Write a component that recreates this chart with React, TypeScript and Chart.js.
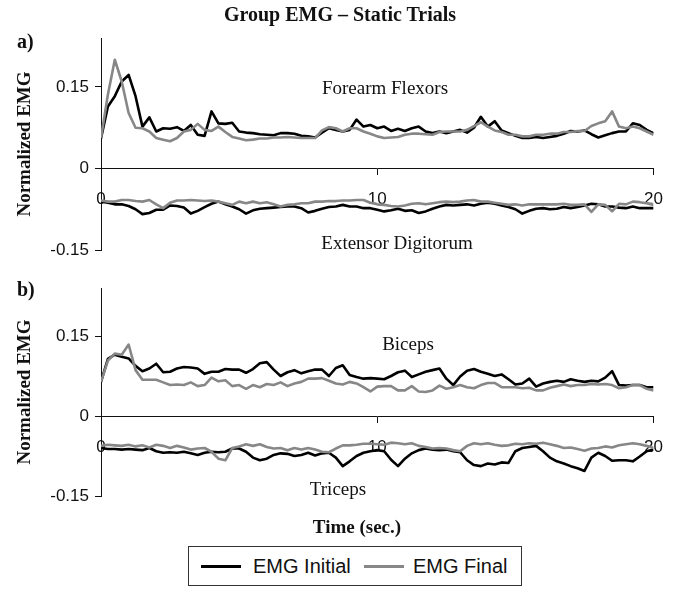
import React, { useEffect, useRef } from "react";
import { Chart, registerables } from "chart.js";

Chart.register(...registerables);

// ---------- data (time in seconds, normalized EMG) ----------
const timeSec = [
  0, 0.25, 0.5, 0.75, 1, 1.25, 1.5, 1.75, 2, 2.25, 2.5, 2.75, 3, 3.25, 3.5, 3.75,
  4, 4.25, 4.5, 4.75, 5, 5.25, 5.5, 5.75, 6, 6.25, 6.5, 6.75, 7, 7.25, 7.5, 7.75,
  8, 8.25, 8.5, 8.75, 9, 9.25, 9.5, 9.75, 10, 10.25, 10.5, 10.75, 11, 11.25, 11.5, 11.75,
  12, 12.25, 12.5, 12.75, 13, 13.25, 13.5, 13.75, 14, 14.25, 14.5, 14.75, 15, 15.25, 15.5, 15.75,
  16, 16.25, 16.5, 16.75, 17, 17.25, 17.5, 17.75, 18, 18.25, 18.5, 18.75, 19, 19.25, 19.5, 19.75,
  20,
];

const flexorsInitial = [
  0.055, 0.114, 0.133, 0.160, 0.172, 0.133, 0.077, 0.094, 0.068, 0.074, 0.073, 0.076,
  0.069, 0.080, 0.062, 0.060, 0.105, 0.083, 0.082, 0.084, 0.068, 0.066, 0.065, 0.063,
  0.062, 0.061, 0.065, 0.065, 0.064, 0.060, 0.059, 0.057, 0.066, 0.074, 0.071, 0.068,
  0.071, 0.090, 0.077, 0.080, 0.074, 0.077, 0.069, 0.073, 0.069, 0.074, 0.077, 0.068,
  0.065, 0.068, 0.065, 0.068, 0.071, 0.066, 0.075, 0.095, 0.077, 0.087, 0.070, 0.065,
  0.060, 0.056, 0.056, 0.058, 0.056, 0.058, 0.060, 0.064, 0.069, 0.068, 0.070, 0.063,
  0.057, 0.061, 0.065, 0.068, 0.068, 0.083, 0.080, 0.071, 0.065,
];
const flexorsFinal = [
  0.056, 0.136, 0.200, 0.160, 0.102, 0.075, 0.074, 0.068, 0.056, 0.053, 0.050, 0.056,
  0.068, 0.071, 0.082, 0.071, 0.069, 0.077, 0.067, 0.058, 0.055, 0.052, 0.053, 0.055,
  0.055, 0.057, 0.057, 0.058, 0.057, 0.056, 0.056, 0.056, 0.070, 0.076, 0.074, 0.068,
  0.074, 0.074, 0.068, 0.064, 0.059, 0.056, 0.057, 0.058, 0.062, 0.064, 0.064, 0.063,
  0.062, 0.067, 0.068, 0.068, 0.068, 0.071, 0.078, 0.085, 0.077, 0.070, 0.067, 0.062,
  0.062, 0.059, 0.059, 0.062, 0.062, 0.064, 0.064, 0.067, 0.067, 0.069, 0.069, 0.078,
  0.083, 0.087, 0.105, 0.077, 0.074, 0.077, 0.074, 0.068, 0.062,
];
const extensorInitial = [
  -0.061, -0.063, -0.066, -0.066, -0.069, -0.075, -0.084, -0.082, -0.076, -0.076, -0.068, -0.069,
  -0.072, -0.083, -0.078, -0.071, -0.065, -0.061, -0.066, -0.070, -0.075, -0.083, -0.077, -0.074,
  -0.073, -0.072, -0.071, -0.070, -0.070, -0.073, -0.081, -0.078, -0.074, -0.071, -0.070, -0.067,
  -0.070, -0.070, -0.073, -0.073, -0.076, -0.079, -0.077, -0.074, -0.078, -0.077, -0.082, -0.079,
  -0.074, -0.070, -0.067, -0.068, -0.067, -0.066, -0.068, -0.065, -0.063, -0.065, -0.068, -0.071,
  -0.075, -0.083, -0.078, -0.074, -0.073, -0.075, -0.074, -0.071, -0.073, -0.071, -0.068, -0.065,
  -0.066, -0.070, -0.070, -0.072, -0.073, -0.070, -0.073, -0.073, -0.073,
];
const extensorFinal = [
  -0.059, -0.061, -0.061, -0.058, -0.058, -0.060, -0.061, -0.058, -0.066, -0.073, -0.063, -0.059,
  -0.059, -0.058, -0.059, -0.060, -0.059, -0.061, -0.064, -0.067, -0.061, -0.064, -0.061, -0.064,
  -0.062, -0.066, -0.070, -0.067, -0.066, -0.064, -0.064, -0.061, -0.061, -0.060, -0.060, -0.059,
  -0.059, -0.058, -0.058, -0.063, -0.066, -0.067, -0.069, -0.070, -0.068, -0.065, -0.064, -0.066,
  -0.064, -0.062, -0.061, -0.062, -0.061, -0.059, -0.058, -0.061, -0.061, -0.063, -0.065, -0.067,
  -0.066, -0.068, -0.066, -0.066, -0.066, -0.066, -0.066, -0.065, -0.067, -0.067, -0.066, -0.080,
  -0.066, -0.067, -0.079, -0.065, -0.066, -0.061, -0.062, -0.064, -0.067,
];
const bicepsInitial = [
  0.064, 0.107, 0.115, 0.111, 0.108, 0.094, 0.084, 0.089, 0.098, 0.082, 0.083, 0.089,
  0.092, 0.091, 0.089, 0.079, 0.083, 0.083, 0.088, 0.087, 0.087, 0.081, 0.088, 0.099,
  0.101, 0.087, 0.075, 0.082, 0.086, 0.080, 0.084, 0.087, 0.087, 0.075, 0.090, 0.095,
  0.077, 0.073, 0.070, 0.071, 0.070, 0.069, 0.075, 0.082, 0.085, 0.073, 0.078, 0.083,
  0.086, 0.089, 0.070, 0.058, 0.074, 0.085, 0.088, 0.083, 0.079, 0.075, 0.078, 0.069,
  0.059, 0.061, 0.070, 0.055, 0.061, 0.064, 0.066, 0.064, 0.069, 0.066, 0.064, 0.066,
  0.065, 0.072, 0.084, 0.058, 0.057, 0.058, 0.058, 0.054, 0.054,
];
const bicepsFinal = [
  0.064, 0.104, 0.117, 0.115, 0.134, 0.086, 0.068, 0.068, 0.068, 0.063, 0.058, 0.059,
  0.058, 0.063, 0.056, 0.058, 0.072, 0.065, 0.067, 0.056, 0.058, 0.051, 0.058, 0.054,
  0.060, 0.058, 0.063, 0.056, 0.061, 0.064, 0.070, 0.070, 0.071, 0.066, 0.061, 0.059,
  0.064, 0.061, 0.054, 0.046, 0.055, 0.056, 0.056, 0.048, 0.048, 0.056, 0.046, 0.045,
  0.048, 0.057, 0.051, 0.054, 0.058, 0.054, 0.052, 0.058, 0.062, 0.062, 0.054, 0.054,
  0.054, 0.052, 0.053, 0.048, 0.048, 0.053, 0.056, 0.059, 0.056, 0.058, 0.058, 0.060,
  0.059, 0.060, 0.058, 0.052, 0.054, 0.058, 0.058, 0.051, 0.048,
];
const tricepsInitial = [
  -0.060, -0.062, -0.062, -0.063, -0.062, -0.063, -0.064, -0.060, -0.066, -0.069, -0.068, -0.069,
  -0.067, -0.070, -0.073, -0.069, -0.067, -0.068, -0.067, -0.061, -0.061, -0.067, -0.078, -0.083,
  -0.080, -0.073, -0.070, -0.071, -0.075, -0.073, -0.069, -0.074, -0.070, -0.069, -0.078, -0.094,
  -0.085, -0.075, -0.069, -0.066, -0.064, -0.066, -0.082, -0.094, -0.080, -0.070, -0.064, -0.061,
  -0.063, -0.064, -0.063, -0.066, -0.068, -0.083, -0.092, -0.094, -0.089, -0.091, -0.087, -0.088,
  -0.066, -0.060, -0.058, -0.056, -0.066, -0.078, -0.085, -0.089, -0.094, -0.098, -0.103, -0.078,
  -0.069, -0.075, -0.084, -0.083, -0.083, -0.085, -0.076, -0.066, -0.063,
];
const tricepsFinal = [
  -0.056, -0.054, -0.055, -0.056, -0.054, -0.057, -0.055, -0.059, -0.054, -0.056, -0.060, -0.056,
  -0.059, -0.063, -0.061, -0.060, -0.067, -0.080, -0.083, -0.060, -0.057, -0.053, -0.056, -0.053,
  -0.058, -0.061, -0.060, -0.064, -0.060, -0.063, -0.060, -0.063, -0.067, -0.068, -0.061, -0.055,
  -0.055, -0.054, -0.052, -0.052, -0.053, -0.054, -0.050, -0.051, -0.053, -0.051, -0.056, -0.058,
  -0.061, -0.060, -0.061, -0.064, -0.066, -0.056, -0.051, -0.053, -0.051, -0.054, -0.056, -0.055,
  -0.052, -0.053, -0.051, -0.052, -0.050, -0.053, -0.056, -0.060, -0.059, -0.062, -0.065, -0.061,
  -0.060, -0.057, -0.059, -0.055, -0.053, -0.051, -0.053, -0.056, -0.060,
];

const xTickValues = [0, 10, 20];
const yTickValues = [-0.15, 0, 0.15];
const seriesNames = ["EMG Initial", "EMG Final"];
const Y_MIN = -0.15;
const Y_MAX = 0.24;

// ---------- style ----------
const BLACK = "#000000";
const GRAY = "#878787";
const SERIF = "'Liberation Serif', 'Times New Roman', serif";
const SANS = "'Liberation Sans', Arial, sans-serif";

function buildConfig(
  upperInitial: number[],
  upperFinal: number[],
  lowerInitial: number[],
  lowerFinal: number[],
  padTop: number,
  padBottom: number
): any {
  const pts = (vals: number[]) => vals.map((v, i) => ({ x: timeSec[i], y: v }));
  const line = (label: string, vals: number[], color: string, order: number) => ({
    label,
    data: pts(vals),
    borderColor: color,
    backgroundColor: color,
    borderWidth: 2.6,
    pointRadius: 0,
    tension: 0,
    fill: false,
    order,
    borderJoinStyle: "round",
  });
  return {
    type: "line",
    data: {
      datasets: [
        line(seriesNames[0], upperInitial, BLACK, 1),
        line(seriesNames[1], upperFinal, GRAY, 0),
        line(seriesNames[0], lowerInitial, BLACK, 1),
        line(seriesNames[1], lowerFinal, GRAY, 0),
      ],
    },
    options: {
      responsive: false,
      animation: false,
      events: [],
      layout: { padding: { left: 0, right: 24, top: padTop, bottom: padBottom } },
      plugins: { legend: { display: false }, tooltip: { enabled: false }, title: { display: false } },
      scales: {
        x: {
          type: "linear",
          min: 0,
          max: 20,
          position: { y: 0 },
          afterBuildTicks: (s: any) => {
            s.ticks = xTickValues.map((v) => ({ value: v }));
          },
          grid: { drawOnChartArea: false, drawTicks: true, tickLength: 6, color: "#111", lineWidth: 1 },
          border: { display: true, color: "#111", width: 1 },
          ticks: {
            padding: 15,
            color: "#111",
            maxRotation: 0,
            autoSkip: false,
            font: { family: SANS, size: 17 },
          },
        },
        y: {
          type: "linear",
          min: Y_MIN,
          max: Y_MAX,
          afterBuildTicks: (s: any) => {
            s.ticks = yTickValues.map((v) => ({ value: v }));
          },
          afterFit: (s: any) => {
            s.width = 101;
          },
          grid: { drawOnChartArea: false, drawTicks: true, tickLength: 6, color: "#111", lineWidth: 1 },
          border: { display: true, color: "#111", width: 1 },
          ticks: {
            padding: 6,
            color: "#111",
            font: { family: SANS, size: 17 },
            callback: (v: any) => (Number(v) === 0 ? "0" : Number(v).toFixed(2)),
          },
          title: {
            display: true,
            text: "Normalized EMG",
            color: "#111",
            font: { family: SERIF, size: 19, weight: "bold" },
            padding: { top: 14, bottom: 0 },
          },
        },
      },
    },
  };
}

function Label(props: { text: string; cx: number; top: number; size: number; bold?: boolean; serif?: boolean }) {
  const { text, cx, top, size, bold, serif } = props;
  return (
    <div
      style={{
        position: "absolute",
        left: cx,
        top,
        transform: "translateX(-50%)",
        whiteSpace: "nowrap",
        fontFamily: serif === false ? SANS : SERIF,
        fontWeight: bold ? "bold" : "normal",
        fontSize: size,
        lineHeight: 1,
        color: "#111",
      }}
    >
      {text}
    </div>
  );
}

export default function App() {
  const refA = useRef<HTMLCanvasElement | null>(null);
  const refB = useRef<HTMLCanvasElement | null>(null);

  useEffect(() => {
    const a = new Chart(refA.current as HTMLCanvasElement, buildConfig(flexorsInitial, flexorsFinal, extensorInitial, extensorFinal, 38, 20));
    const b = new Chart(refB.current as HTMLCanvasElement, buildConfig(bicepsInitial, bicepsFinal, tricepsInitial, tricepsFinal, 18, 24));
    return () => {
      a.destroy();
      b.destroy();
    };
  }, []);

  return (
    <div style={{ position: "absolute", left: 0, top: 0, width: 678, height: 589, background: "#fff", overflow: "hidden" }}>
      <canvas ref={refA} width={678} height={270} style={{ position: "absolute", left: 0, top: 0, width: 678, height: 270 }} />
      <canvas ref={refB} width={678} height={250} style={{ position: "absolute", left: 0, top: 270, width: 678, height: 250 }} />

      <Label text="Group EMG – Static Trials" cx={340} top={4} size={20} bold />
      <div style={{ position: "absolute", left: 17, top: 31, fontFamily: SERIF, fontWeight: "bold", fontSize: 20, lineHeight: 1, color: "#111" }}>a)</div>
      <div style={{ position: "absolute", left: 17, top: 279, fontFamily: SERIF, fontWeight: "bold", fontSize: 20, lineHeight: 1, color: "#111" }}>b)</div>

      <Label text="Forearm Flexors" cx={385} top={78} size={19} />
      <Label text="Extensor Digitorum" cx={397} top={233} size={19} />
      <Label text="Biceps" cx={408} top={334} size={19} />
      <Label text="Triceps" cx={338} top={479} size={19} />

      <Label text="Time (sec.)" cx={357} top={517} size={19} bold />

      <div
        style={{
          position: "absolute",
          left: 188,
          top: 546,
          width: 334,
          height: 40,
          border: "1.5px solid #333",
          boxSizing: "border-box",
        }}
      >
        <div style={{ position: "absolute", left: 12, top: 18, width: 40, height: 3, background: BLACK }} />
        <div style={{ position: "absolute", left: 64, top: 9, fontFamily: SANS, fontSize: 20, lineHeight: 1, color: "#111", whiteSpace: "nowrap" }}>
          {seriesNames[0]}
        </div>
        <div style={{ position: "absolute", left: 175, top: 18, width: 40, height: 3, background: GRAY }} />
        <div style={{ position: "absolute", left: 224, top: 9, fontFamily: SANS, fontSize: 20, lineHeight: 1, color: "#111", whiteSpace: "nowrap" }}>
          {seriesNames[1]}
        </div>
      </div>
    </div>
  );
}
